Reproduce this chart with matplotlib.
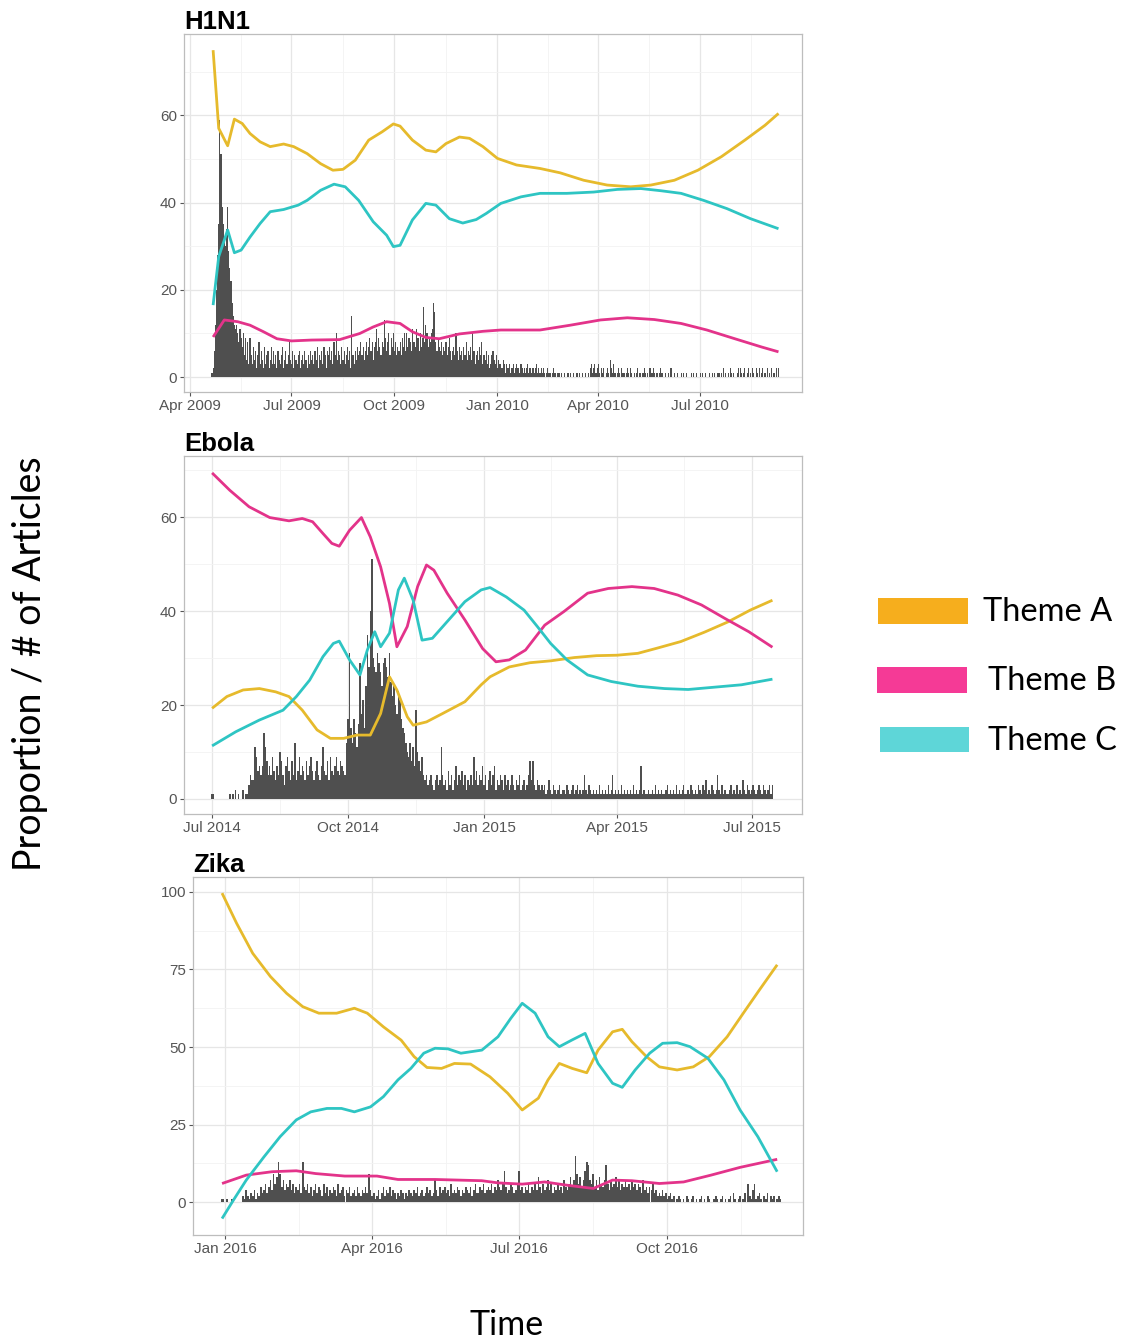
import numpy as np
import matplotlib.pyplot as plt
import matplotlib.dates as mdates
from matplotlib.patches import Rectangle

### colours
COL_A = '#E6BA2C'
COL_B = '#E3338A'
COL_C = '#2EC5C3'
BAR_COL = '#4F4F4F'

### H1N1 : daily article counts (from 2009-04-20)
h1n1_start = '2009-04-20'
h1n1_counts = [
    0, 1, 2, 6, 12, 20, 28,
    35, 59, 51, 39, 35, 32, 30,
    34, 39, 29, 25, 22, 17, 14,
    12, 11, 12, 10, 8, 11, 9,
    7, 10, 5, 9, 4, 8, 3,
    9, 5, 3, 7, 4, 6, 2,
    5, 8, 3, 6, 4, 2, 7,
    3, 5, 6, 2, 4, 7, 3,
    6, 3, 5, 2, 6, 4, 3,
    5, 7, 2, 4, 6, 3, 5,
    8, 4, 3, 6, 2, 5, 4,
    3, 5, 6, 2, 4, 5, 3,
    6, 4, 2, 5, 3, 6, 4,
    5, 3, 6, 4, 7, 2, 5,
    4, 6, 3, 7, 5, 2, 6,
    5, 7, 4, 6, 3, 8, 5,
    10, 4, 6, 5, 3, 7, 4,
    6, 3, 5, 7, 4, 6, 2,
    14, 5, 3, 6, 4, 7, 5,
    6, 8, 5, 7, 4, 6, 8,
    5, 7, 9, 6, 8, 4, 7,
    8, 11, 6, 9, 7, 5, 8,
    7, 13, 9, 6, 8, 10, 5,
    9, 7, 10, 6, 8, 5, 7,
    6, 8, 5, 9, 7, 10, 6,
    10, 7, 9, 8, 6, 11, 8,
    8, 7, 11, 9, 6, 10, 7,
    9, 16, 8, 12, 10, 7, 9,
    8, 10, 11, 17, 15, 8, 6,
    9, 7, 6, 8, 5, 7, 6,
    8, 5, 7, 9, 6, 4, 6,
    7, 5, 10, 6, 4, 7, 5,
    6, 4, 7, 5, 8, 4, 6,
    5, 7, 4, 10, 6, 3, 5,
    6, 4, 7, 5, 8, 3, 5,
    4, 6, 3, 5, 2, 3, 5,
    6, 4, 3, 5, 2, 4, 3,
    3, 2, 4, 3, 1, 3, 2,
    2, 3, 1, 2, 3, 1, 2,
    3, 2, 2, 1, 3, 2, 1,
    2, 1, 2, 3, 1, 2, 1,
    2, 2, 1, 2, 3, 1, 2,
    1, 2, 1, 2, 1, 0, 1,
    2, 1, 1, 0, 1, 2, 1,
    1, 0, 1, 1, 0, 1, 0,
    0, 1, 0, 0, 1, 0, 1,
    0, 0, 1, 0, 0, 1, 0,
    1, 0, 0, 1, 0, 0, 1,
    0, 1, 0, 2, 3, 1, 2,
    3, 1, 2, 3, 1, 0, 2,
    1, 2, 0, 1, 2, 1, 0,
    4, 2, 1, 3, 1, 0, 1,
    2, 1, 0, 2, 1, 1, 0,
    1, 2, 1, 0, 2, 1, 0,
    1, 0, 1, 2, 0, 1, 1,
    0, 1, 2, 1, 0, 1, 0,
    2, 2, 1, 2, 1, 0, 1,
    1, 0, 1, 2, 1, 0, 0,
    1, 0, 0, 1, 0, 2, 0,
    0, 1, 0, 0, 1, 0, 0,
    1, 0, 1, 0, 0, 1, 0,
    0, 0, 1, 0, 1, 0, 0,
    1, 0, 0, 1, 0, 1, 0,
    0, 1, 0, 0, 1, 0, 0,
    1, 0, 1, 0, 0, 1, 1,
    0, 1, 0, 2, 0, 1, 0,
    1, 0, 2, 1, 0, 1, 0,
    0, 1, 2, 0, 2, 1, 0,
    1, 2, 0, 1, 2, 0, 1,
    0, 2, 1, 0, 2, 1, 0,
    2, 0, 1, 2, 0, 1, 0,
    2, 0, 1, 0, 2, 0, 1,
    0, 2, 0, 2,
]

### H1N1 : theme proportions
h1n1_a_dates = ['2009-04-22', '2009-04-27', '2009-05-05', '2009-05-11', '2009-05-18',
                '2009-05-25', '2009-06-03', '2009-06-12', '2009-06-24', '2009-07-03',
                '2009-07-15', '2009-07-27', '2009-08-07', '2009-08-16', '2009-08-27',
                '2009-09-08', '2009-09-20', '2009-09-30', '2009-10-06', '2009-10-17',
                '2009-10-29', '2009-11-07', '2009-11-16', '2009-11-28', '2009-12-07',
                '2009-12-19', '2010-01-01', '2010-01-18', '2010-02-08', '2010-02-26',
                '2010-03-19', '2010-04-09', '2010-04-30', '2010-05-18', '2010-06-08',
                '2010-06-29', '2010-07-20', '2010-08-10', '2010-08-28', '2010-09-09']
h1n1_a = [74.9, 57.0, 53.0, 59.1, 58.1, 55.8, 53.9, 52.8, 53.4, 52.8,
          51.2, 48.9, 47.4, 47.6, 49.7, 54.3, 56.2, 58.0, 57.5, 54.3,
          52.0, 51.6, 53.5, 55.0, 54.7, 52.8, 50.1, 48.6, 47.8, 46.8,
          45.1, 44.0, 43.6, 44.0, 45.1, 47.4, 50.5, 54.3, 57.7, 60.4]

h1n1_b_dates = ['2009-04-22', '2009-05-02', '2009-05-14', '2009-05-25', '2009-06-06',
                '2009-06-18', '2009-07-01', '2009-07-19', '2009-08-13', '2009-08-31',
                '2009-09-12', '2009-09-24', '2009-10-06', '2009-10-17', '2009-10-29',
                '2009-11-10', '2009-11-28', '2009-12-19', '2010-01-04', '2010-02-08',
                '2010-03-07', '2010-04-03', '2010-04-27', '2010-05-21', '2010-06-14',
                '2010-07-07', '2010-08-01', '2010-08-25', '2010-09-09']
h1n1_b = [9.2, 13.1, 12.7, 11.9, 10.4, 8.8, 8.3, 8.5, 8.6, 10.0,
          11.5, 12.7, 12.3, 10.4, 9.1, 8.8, 9.9, 10.5, 10.8, 10.8,
          11.9, 13.1, 13.6, 13.2, 12.3, 10.8, 8.8, 6.9, 5.8]

h1n1_c_dates = ['2009-04-22', '2009-04-27', '2009-05-05', '2009-05-11', '2009-05-17',
                '2009-05-25', '2009-06-03', '2009-06-12', '2009-06-24', '2009-07-07',
                '2009-07-15', '2009-07-27', '2009-08-08', '2009-08-18', '2009-08-30',
                '2009-09-12', '2009-09-24', '2009-09-30', '2009-10-06', '2009-10-17',
                '2009-10-29', '2009-11-07', '2009-11-19', '2009-12-01', '2009-12-13',
                '2009-12-22', '2010-01-04', '2010-01-22', '2010-02-08', '2010-03-04',
                '2010-03-28', '2010-04-18', '2010-05-09', '2010-05-27', '2010-06-14',
                '2010-07-04', '2010-07-25', '2010-08-15', '2010-09-09']
h1n1_c = [16.5, 27.6, 33.7, 28.5, 29.1, 32.1, 35.2, 37.9, 38.4, 39.4,
          40.5, 42.8, 44.2, 43.6, 40.5, 35.6, 32.5, 29.9, 30.2, 36.0,
          39.8, 39.4, 36.3, 35.3, 36.1, 37.5, 39.8, 41.3, 42.1, 42.1,
          42.4, 43.0, 43.2, 42.7, 42.1, 40.5, 38.6, 36.3, 34.0]

### Ebola : daily article counts (from 2014-07-01)
ebola_start = '2014-07-01'
ebola_counts = [
    1, 1, 0, 0, 0, 0, 0,
    0, 0, 0, 0, 0, 1, 0,
    1, 0, 2, 0, 1, 0, 0,
    2, 0, 1, 1, 3, 5, 4,
    4, 11, 9, 6, 7, 5, 7,
    14, 11, 8, 5, 7, 5, 9,
    6, 4, 7, 5, 10, 8, 5,
    3, 7, 9, 6, 4, 8, 5,
    12, 4, 6, 9, 5, 7, 6,
    4, 8, 5, 7, 9, 6, 4,
    6, 8, 5, 4, 7, 11, 6,
    5, 8, 4, 9, 6, 5, 7,
    9, 6, 5, 8, 7, 6, 5,
    12, 17, 31, 15, 12, 17, 14,
    11, 16, 29, 18, 21, 15, 24,
    35, 28, 40, 51, 30, 28, 27,
    31, 29, 27, 24, 29, 30, 28,
    26, 31, 25, 22, 24, 20, 18,
    23, 21, 17, 15, 14, 12, 10,
    9, 12, 8, 11, 7, 19, 10,
    8, 6, 9, 5, 4, 5, 3,
    4, 5, 3, 2, 4, 5, 3,
    4, 11, 5, 3, 4, 2, 6,
    3, 5, 2, 4, 7, 3, 5,
    4, 6, 3, 5, 2, 4, 3,
    5, 3, 9, 4, 6, 3, 5,
    4, 7, 3, 5, 2, 4, 6,
    3, 5, 7, 2, 4, 3, 5,
    4, 2, 5, 3, 4, 2, 3,
    5, 3, 2, 4, 3, 5, 2,
    3, 4, 2, 3, 5, 8, 4,
    8, 3, 2, 4, 3, 2, 3,
    2, 3, 1, 2, 4, 2, 1,
    3, 2, 1, 2, 3, 1, 2,
    2, 1, 3, 2, 1, 2, 3,
    1, 2, 3, 1, 2, 1, 2,
    5, 2, 1, 3, 2, 1, 2,
    1, 2, 1, 3, 1, 2, 1,
    2, 1, 3, 1, 2, 5, 1,
    2, 1, 2, 1, 3, 1, 2,
    1, 2, 1, 2, 1, 3, 1,
    2, 1, 2, 7, 1, 2, 1,
    1, 2, 1, 1, 2, 1, 3,
    1, 2, 1, 2, 1, 1, 2,
    3, 1, 2, 1, 2, 1, 3,
    1, 2, 1, 2, 3, 1, 1,
    2, 1, 3, 2, 1, 2, 1,
    3, 2, 1, 3, 2, 4, 1,
    2, 1, 3, 2, 1, 2, 5,
    2, 1, 3, 1, 2, 1, 1,
    2, 3, 1, 2, 1, 3, 1,
    2, 1, 4, 2, 1, 3, 2,
    1, 2, 3, 2, 1, 2, 3,
    2, 1, 3, 2, 1, 2, 3,
    1, 3,
]

### Ebola : theme proportions
ebola_a_dates = ['2014-07-01', '2014-07-11', '2014-07-22', '2014-08-02', '2014-08-13',
                 '2014-08-22', '2014-08-31', '2014-09-10', '2014-09-19', '2014-09-28',
                 '2014-10-07', '2014-10-16', '2014-10-23', '2014-10-29', '2014-11-03',
                 '2014-11-10', '2014-11-14', '2014-11-23', '2014-12-04', '2014-12-19',
                 '2014-12-30', '2015-01-05', '2015-01-18', '2015-02-01', '2015-02-15',
                 '2015-03-03', '2015-03-18', '2015-04-01', '2015-04-15', '2015-04-28',
                 '2015-05-14', '2015-05-30', '2015-06-15', '2015-06-30', '2015-07-15']
ebola_a = [19.3, 21.8, 23.2, 23.5, 22.8, 21.8, 18.9, 14.7, 12.9, 12.9,
           13.6, 13.6, 18.2, 26.0, 23.2, 17.5, 15.7, 16.4, 18.2, 20.7,
           24.3, 26.0, 28.1, 29.0, 29.4, 30.1, 30.5, 30.6, 31.0, 32.1,
           33.5, 35.5, 37.7, 40.2, 42.3]

ebola_b_dates = ['2014-07-01', '2014-07-13', '2014-07-26', '2014-08-09', '2014-08-22',
                 '2014-08-31', '2014-09-07', '2014-09-14', '2014-09-20', '2014-09-25',
                 '2014-10-02', '2014-10-10', '2014-10-16', '2014-10-23', '2014-10-29',
                 '2014-11-03', '2014-11-10', '2014-11-17', '2014-11-23', '2014-11-28',
                 '2014-12-07', '2014-12-19', '2014-12-31', '2015-01-09', '2015-01-18',
                 '2015-01-29', '2015-02-11', '2015-02-24', '2015-03-12', '2015-03-26',
                 '2015-04-11', '2015-04-26', '2015-05-12', '2015-05-28', '2015-06-13',
                 '2015-06-29', '2015-07-15']
ebola_b = [69.4, 65.7, 62.2, 59.9, 59.2, 59.7, 59.0, 56.5, 54.4, 53.8,
           57.2, 59.9, 55.8, 49.4, 41.6, 32.4, 36.7, 45.2, 49.8, 48.7,
           43.8, 38.1, 32.0, 29.2, 29.6, 31.7, 37.0, 39.9, 43.8, 44.8,
           45.2, 44.8, 43.4, 41.3, 38.4, 35.6, 32.3]

ebola_c_dates = ['2014-07-01', '2014-07-17', '2014-08-02', '2014-08-18', '2014-08-27',
                 '2014-09-05', '2014-09-14', '2014-09-21', '2014-09-25', '2014-10-02',
                 '2014-10-09', '2014-10-14', '2014-10-19', '2014-10-23', '2014-10-29',
                 '2014-11-04', '2014-11-08', '2014-11-14', '2014-11-20', '2014-11-27',
                 '2014-12-08', '2014-12-19', '2014-12-30', '2015-01-05', '2015-01-16',
                 '2015-01-28', '2015-02-06', '2015-02-15', '2015-02-26', '2015-03-12',
                 '2015-03-28', '2015-04-15', '2015-05-03', '2015-05-19', '2015-06-06',
                 '2015-06-24', '2015-07-15']
ebola_c = [11.3, 14.3, 16.8, 18.9, 21.8, 25.3, 30.3, 33.1, 33.6, 29.6,
           26.4, 31.7, 35.6, 32.4, 35.3, 44.5, 47.0, 42.3, 33.8, 34.2,
           38.1, 42.0, 44.5, 45.0, 43.0, 40.2, 36.7, 33.1, 29.6, 26.4,
           25.0, 24.0, 23.5, 23.3, 23.8, 24.3, 25.5]

### Zika : daily article counts (from 2015-12-28)
zika_start = '2015-12-28'
zika_counts = [
    0, 0, 1, 1, 0, 1, 0,
    0, 1, 0, 0, 0, 0, 0,
    0, 2, 1, 4, 2, 1, 3,
    2, 4, 1, 3, 2, 5, 3,
    4, 6, 3, 5, 7, 4, 9,
    6, 8, 13, 9, 5, 7, 4,
    6, 5, 7, 4, 6, 3, 5,
    4, 6, 3, 13, 5, 4, 6,
    3, 5, 2, 4, 6, 3, 5,
    4, 2, 6, 3, 5, 2, 4,
    3, 5, 4, 2, 6, 3, 4,
    5, 2, 4, 3, 5, 2, 3,
    4, 2, 5, 3, 2, 4, 3,
    5, 3, 9, 4, 2, 3, 1,
    2, 4, 1, 3, 5, 2, 4,
    3, 5, 2, 4, 3, 1, 3,
    2, 4, 3, 1, 3, 2, 4,
    3, 2, 4, 3, 5, 2, 3,
    4, 2, 3, 5, 3, 4, 2,
    3, 7, 4, 2, 5, 3, 4,
    5, 3, 4, 2, 6, 3, 4,
    3, 5, 4, 2, 4, 3, 5,
    4, 3, 5, 2, 4, 6, 3,
    3, 5, 4, 6, 3, 4, 5,
    4, 6, 3, 5, 4, 7, 5,
    4, 6, 10, 5, 3, 4, 6,
    5, 3, 4, 6, 10, 4, 5,
    3, 5, 4, 6, 3, 5, 4,
    6, 4, 8, 5, 3, 6, 4,
    5, 7, 4, 6, 3, 5, 4,
    6, 4, 5, 3, 7, 5, 4,
    6, 8, 5, 7, 15, 9, 6,
    8, 5, 7, 10, 13, 12, 7,
    6, 9, 5, 7, 4, 8, 6,
    5, 7, 12, 6, 4, 7, 5,
    6, 8, 5, 7, 4, 6, 5,
    7, 5, 6, 4, 7, 5, 6,
    4, 6, 5, 3, 7, 4, 5,
    3, 5, 4, 6, 3, 4, 2,
    3, 2, 4, 2, 3, 1, 2,
    3, 1, 2, 0, 1, 2, 1,
    0, 1, 0, 2, 1, 0, 1,
    2, 0, 1, 0, 1, 2, 0,
    1, 0, 2, 1, 0, 0, 1,
    2, 1, 0, 1, 2, 0, 1,
    0, 1, 2, 0, 3, 1, 0,
    1, 2, 0, 1, 3, 0, 6,
    2, 1, 4, 6, 1, 2, 3,
    1, 0, 2, 1, 3, 0, 2,
    1, 2, 0, 1, 2, 1,
]

### Zika : theme proportions
zika_a_dates = ['2015-12-30', '2016-01-08', '2016-01-18', '2016-01-29', '2016-02-08',
                '2016-02-18', '2016-02-28', '2016-03-10', '2016-03-21', '2016-03-29',
                '2016-04-08', '2016-04-19', '2016-04-27', '2016-05-05', '2016-05-14',
                '2016-05-22', '2016-06-01', '2016-06-13', '2016-06-24', '2016-07-03',
                '2016-07-13', '2016-07-19', '2016-07-26', '2016-08-03', '2016-08-12',
                '2016-08-19', '2016-08-28', '2016-09-03', '2016-09-09', '2016-09-18',
                '2016-09-26', '2016-10-07', '2016-10-17', '2016-10-27', '2016-11-07',
                '2016-11-17', '2016-11-27', '2016-12-08']
zika_a = [99.6, 89.9, 80.2, 72.7, 67.3, 63.0, 60.9, 60.9, 62.5, 60.9,
          56.5, 52.2, 46.9, 43.4, 43.1, 44.7, 44.5, 40.4, 35.1, 29.7,
          33.5, 39.4, 44.7, 43.1, 41.7, 49.0, 54.9, 55.7, 51.7, 46.9,
          43.6, 42.6, 43.6, 46.9, 53.3, 60.9, 68.4, 76.5]

zika_b_dates = ['2015-12-30', '2016-01-14', '2016-01-30', '2016-02-14', '2016-02-26',
                '2016-03-15', '2016-04-04', '2016-04-17', '2016-05-10', '2016-06-08',
                '2016-06-18', '2016-07-03', '2016-07-17', '2016-07-30', '2016-08-16',
                '2016-08-28', '2016-09-09', '2016-09-26', '2016-10-11', '2016-10-28',
                '2016-11-15', '2016-12-08']
zika_b = [6.0, 8.7, 9.8, 10.1, 9.2, 8.4, 8.4, 7.3, 7.3, 6.9,
          6.2, 5.8, 6.5, 5.5, 4.4, 7.1, 6.9, 6.0, 6.5, 8.7,
          11.2, 13.8]

zika_c_dates = ['2015-12-30', '2016-01-06', '2016-01-14', '2016-01-25', '2016-02-04',
                '2016-02-14', '2016-02-23', '2016-03-04', '2016-03-13', '2016-03-21',
                '2016-03-31', '2016-04-08', '2016-04-17', '2016-04-25', '2016-05-03',
                '2016-05-10', '2016-05-18', '2016-05-26', '2016-06-08', '2016-06-18',
                '2016-06-26', '2016-07-03', '2016-07-11', '2016-07-19', '2016-07-26',
                '2016-08-03', '2016-08-11', '2016-08-19', '2016-08-28', '2016-09-03',
                '2016-09-11', '2016-09-20', '2016-09-28', '2016-10-07', '2016-10-15',
                '2016-10-26', '2016-11-05', '2016-11-15', '2016-11-26', '2016-12-08']
zika_c = [-5.3, 0.6, 7.1, 14.6, 21.1, 26.5, 29.1, 30.2, 30.2, 29.1,
          30.7, 34.0, 39.4, 43.1, 48.0, 49.6, 49.4, 48.0, 49.0, 53.3,
          59.3, 64.1, 60.9, 53.3, 50.1, 52.3, 54.4, 44.7, 38.3, 37.0,
          42.6, 48.0, 51.2, 51.4, 50.1, 46.4, 39.4, 29.7, 21.1, 9.8]

theme_labels = ['Theme A', 'Theme B', 'Theme C']


def to_num(dates):
    return mdates.date2num(np.array(dates, dtype='datetime64[D]'))


def draw_panel(ax, title, start, counts, lines, xlim, yticks, ylim):
    days = np.datetime64(start) + np.arange(len(counts))
    ax.bar(mdates.date2num(days), counts, width=1.0, color=BAR_COL,
           linewidth=0, zorder=2)
    for (d, v), col in zip(lines, [COL_A, COL_B, COL_C]):
        ax.plot(to_num(d), v, color=col, lw=2.0, zorder=3,
                solid_capstyle='butt', solid_joinstyle='round')

    # axes style (ggplot theme_bw-ish)
    x0, x1 = to_num(xlim)
    ax.set_xlim(x0, x1)
    ax.set_ylim(*ylim)
    ax.xaxis.set_major_locator(mdates.MonthLocator(bymonth=(1, 4, 7, 10)))
    ax.xaxis.set_major_formatter(mdates.DateFormatter('%b %Y'))
    maj = [t for t in ax.get_xticks()]
    step = maj[1] - maj[0]
    ext = [maj[0] - step] + maj + [maj[-1] + step]
    ax.set_xticks([(a + b) / 2 for a, b in zip(ext[:-1], ext[1:])], minor=True)
    ax.set_yticks(yticks)
    ys = yticks[1] - yticks[0]
    ax.set_yticks([y + ys / 2 for y in [yticks[0] - ys] + list(yticks)], minor=True)
    ax.set_xlim(x0, x1)
    ax.set_ylim(*ylim)

    ax.grid(which='major', color='#E6E6E6', lw=0.9, zorder=0)
    ax.grid(which='minor', color='#F3F3F3', lw=0.6, zorder=0)
    ax.set_axisbelow(True)
    for s in ax.spines.values():
        s.set_color('#BDBDBD')
        s.set_linewidth(0.9)
    ax.tick_params(which='major', length=3, width=0.8, color='#555555',
                   labelcolor='#555555', labelsize=11, pad=2)
    ax.tick_params(which='minor', length=0)
    for lab in ax.get_xticklabels() + ax.get_yticklabels():
        lab.set_fontfamily('Liberation Sans')
    ax.set_title(title, loc='left', fontsize=18.5, fontweight='bold',
                 fontfamily='Liberation Sans', pad=2)


def main():
    W, H = 1127, 1342
    fig = plt.figure(figsize=(W / 100, H / 100), dpi=100)

    def box(l, t, r, b):
        return [l / W, 1 - b / H, (r - l) / W, (b - t) / H]

    ax1 = fig.add_axes(box(184, 34, 802, 392))
    ax2 = fig.add_axes(box(184, 456, 802, 814))
    ax3 = fig.add_axes(box(193, 877, 803, 1235))

    draw_panel(ax1, 'H1N1', h1n1_start, h1n1_counts,
               [(h1n1_a_dates, h1n1_a), (h1n1_b_dates, h1n1_b), (h1n1_c_dates, h1n1_c)],
               ['2009-03-27', '2010-09-30'], [0, 20, 40, 60], (-3.4, 78.6))
    draw_panel(ax2, 'Ebola', ebola_start, ebola_counts,
               [(ebola_a_dates, ebola_a), (ebola_b_dates, ebola_b), (ebola_c_dates, ebola_c)],
               ['2014-06-12', '2015-08-04'], [0, 20, 40, 60], (-3.2, 73.0))
    draw_panel(ax3, 'Zika', zika_start, zika_counts,
               [(zika_a_dates, zika_a), (zika_b_dates, zika_b), (zika_c_dates, zika_c)],
               ['2015-12-12', '2016-12-24'], [0, 25, 50, 75, 100], (-10.6, 104.8))

    # legend on the right
    leg_cols = ['#F6AE1D', '#F53A96', '#5ED6D8']
    leg_boxes = [(878, 598, 968, 624), (877, 667, 967, 693), (880, 727, 969, 752)]
    leg_text_x = [983, 988, 988]
    for lab, col, (l, t, r, b), tx in zip(theme_labels, leg_cols, leg_boxes, leg_text_x):
        fig.add_artist(Rectangle((l / W, 1 - b / H), (r - l) / W, (b - t) / H,
                                 transform=fig.transFigure, color=col, lw=0))
        fig.text(tx / W, 1 - ((t + b) / 2 + 1) / H, lab, fontsize=23.5,
                 fontfamily='Lato', va='center', ha='left')

    fig.text(30 / W, 1 - 664 / H, 'Proportion / # of Articles', rotation=90,
             fontsize=27, fontfamily='Lato', ha='center', va='center')
    fig.text(507 / W, 1 - 1325 / H, 'Time', fontsize=24.5, fontfamily='Lato',
             ha='center', va='center')

    fig.savefig('out.png', dpi=100)


if __name__ == '__main__':
    main()
